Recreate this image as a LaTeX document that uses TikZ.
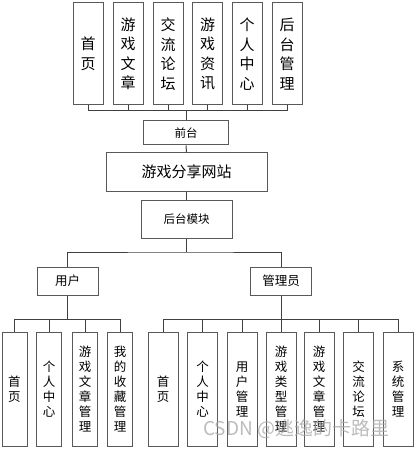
\documentclass[tikz,border=0pt]{standalone}
\usepackage{fontspec}
\setmainfont{Noto Sans CJK SC}

\tikzset{
    box/.style={draw=black!65, line width=1pt, fill=white, inner sep=0pt, align=center},
    topbox/.style={box, minimum width=30pt, minimum height=102pt, font=\fontsize{15}{19.5}\selectfont},
    midbox/.style={box, font=\fontsize{11.5}{14}\selectfont},
    leafbox/.style={box, minimum height=114pt, font=\fontsize{12.5}{15}\selectfont},
    link/.style={draw=black!75, line width=1pt}
}

\begin{document}
\begin{tikzpicture}[x=1pt, y=-1pt]
        \useasboundingbox (0,0) rectangle (415,449);

        % Front-end pages
        \foreach \x/\t [count=\i] in {88/{首\\页}, 128/{游\\戏\\文\\章}, 168/{交\\流\\论\\坛},
                                      207.5/{游\\戏\\资\\讯}, 247/{个\\人\\中\\心}, 287/{后\\台\\管\\理}} {
            \node[topbox] (top\i) at (\x,54) {\t};
        }
        \coordinate (topbus) at (186,111);
        \foreach \i in {1,...,6} {
            \draw[link] (top\i.south) |- (topbus);
        }

        % Main column
        \node[midbox, minimum width=85pt, minimum height=24pt] (front) at (186,133) {前台};
        \node[box, minimum width=161pt, minimum height=38pt, font=\fontsize{15}{18}\selectfont] (site) at (186.5,172) {游戏分享网站};
        \node[midbox, minimum width=91pt, minimum height=38pt] (back) at (186.5,219) {后台模块};

        \draw[link] (topbus) -- (front.north);
        \draw[link] (front.south) -- (site.north);
        \draw[link] (site.south) -- (back.north);

        % Roles
        \node[midbox, minimum width=61pt, minimum height=28pt, font=\fontsize{12.5}{15}\selectfont] (user) at (67.5,281) {用户};
        \node[midbox, minimum width=61pt, minimum height=28pt, font=\fontsize{12.5}{15}\selectfont] (admin) at (281,281) {管理员};

        \coordinate (split) at (186.5,252);
        \draw[link] (back.south) -- (split);
        \draw[link] (user.north) |- (split) -| (admin.north);

        % User functions
        \foreach \x/\t [count=\i] in {14.5/{首\\页}, 49/{个\\人\\中\\心}, 85/{游\\戏\\文\\章\\管\\理},
                                      120/{我\\的\\收\\藏\\管\\理}} {
            \node[leafbox, minimum width=25pt] (u\i) at (\x,389) {\t};
        }
        \coordinate (ubus) at (67.5,319);
        \draw[link] (user.south) -- (ubus);
        \foreach \i in {1,...,4} {
            \draw[link] (u\i.north) |- (ubus);
        }

        % Admin functions
        \foreach \x/\t [count=\i] in {163/{首\\页}, 202.5/{个\\人\\中\\心}, 242/{用\\户\\管\\理},
                                      281/{游\\戏\\类\\型\\管\\理}, 319/{游\\戏\\文\\章\\管\\理},
                                      358.5/{交\\流\\论\\坛}, 398/{系\\统\\管\\理}} {
            \node[leafbox, minimum width=30pt] (a\i) at (\x,389) {\t};
        }
        \coordinate (abus) at (281,319);
        \draw[link] (admin.south) -- (abus);
        \foreach \i in {1,...,7} {
            \draw[link] (a\i.north) |- (abus);
        }

        % Watermark
        \node[anchor=west, text=gray!70, opacity=0.75, inner sep=0pt, font=\fontsize{19}{22}\selectfont] (mark) at (203,429) {CSDN @逃逸的卡路里};
    \end{tikzpicture}
\end{document}
